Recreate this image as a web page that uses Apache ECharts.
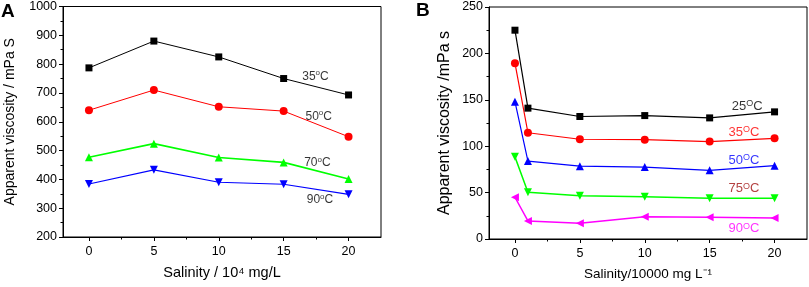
<!DOCTYPE html>
<html>
<head>
<meta charset="utf-8">
<script src="https://cdn.jsdelivr.net/npm/echarts@6/dist/echarts.min.js"></script>
<style>
html, body { margin: 0; padding: 0; background: #fff; }
#main { width: 809px; height: 287px; }
</style>
</head>
<body>
<div id="main"></div>
<script>
// panel A: salinity in 10^4 mg/L
var salinityA = [0, 5, 10, 15, 20];
var visc35A = [787, 880, 825, 750, 693];
var visc50A = [640, 710, 652, 637, 548];
var visc70A = [477, 524, 476, 459, 401];
var visc90A = [384, 433, 390, 383, 348];
var namesA = ['35', '50', '70', '90'];

// panel B: salinity in 10000 mg/L
var salinityB = [0, 1, 5, 10, 15, 20];
var visc25B = [225, 141, 132, 133, 130.5, 137];
var visc35B = [189.5, 114.5, 107.5, 107, 105, 108.5];
var visc50B = [148, 84, 78.5, 77.5, 74, 79];
var visc75B = [88.5, 50.5, 46.5, 45.5, 44, 44];
var visc90B = [45, 19.5, 17, 24, 23.5, 22.5];
var namesB = ['25', '35', '50', '75', '90'];

var majorX = [0, 5, 10, 15, 20];
var minorX = [2.5, 7.5, 12.5, 17.5];

var FONT = 'Liberation Sans, Arial, sans-serif';

function zip(xs, ys) {
  return xs.map(function (x, i) { return [x, ys[i]]; });
}

function lineSeries(idx, xs, ys, color, symbol, rot, size, width) {
  return {
    type: 'line',
    xAxisIndex: idx * 2,
    yAxisIndex: idx,
    data: zip(xs, ys),
    symbol: symbol,
    symbolRotate: rot,
    symbolSize: size,
    lineStyle: { color: color, width: width },
    itemStyle: { color: color },
    z: 3
  };
}

function tempLabel(idx, x, y, text, color, big) {
  var fs = big ? 13 : 12;
  return {
    type: 'scatter',
    xAxisIndex: idx * 2,
    yAxisIndex: idx,
    symbolSize: 0,
    silent: true,
    data: [[x, y]],
    label: {
      show: true,
      position: 'inside',
      formatter: '{n|' + text + '}{s|' + (big ? 'O' : 'o') + '}{n|C}',
      color: color,
      fontFamily: FONT,
      rich: {
        n: { fontSize: fs, color: color, fontFamily: FONT, lineHeight: 14 },
        s: { fontSize: big ? 9 : 8, color: color, fontFamily: FONT, lineHeight: big ? 8 : 9, verticalAlign: 'top' }
      }
    },
    z: 4
  };
}

function xAxes(grid, name, nameSize) {
  return [{
    type: 'value', gridIndex: grid, min: -2, max: 22.5,
    name: name, nameLocation: 'middle', nameGap: 28,
    nameTextStyle: { fontSize: nameSize, color: '#000', fontFamily: FONT },
    axisLine: { show: true, onZero: false, lineStyle: { color: '#000', width: 1 } },
    axisTick: { show: true, customValues: majorX, length: 4, lineStyle: { color: '#000' } },
    axisLabel: { customValues: majorX, fontSize: 12.5, color: '#000', fontFamily: FONT, margin: 8 },
    splitLine: { show: false }
  }, {
    type: 'value', gridIndex: grid, min: -2, max: 22.5, position: 'bottom',
    axisLine: { show: false, onZero: false },
    axisTick: { show: true, customValues: minorX, length: 2.5, lineStyle: { color: '#000' } },
    axisLabel: { show: false, customValues: minorX },
    splitLine: { show: false }
  }];
}

function yAxis(grid, min, max, step, name, gap, nameSize) {
  return {
    type: 'value', gridIndex: grid, min: min, max: max, interval: step,
    name: name, nameLocation: 'middle', nameGap: gap,
    nameTextStyle: { fontSize: nameSize, color: '#000', fontFamily: FONT },
    axisLine: { show: true, onZero: false, lineStyle: { color: '#000', width: 1 } },
    axisTick: { show: true, length: 4, lineStyle: { color: '#000' } },
    minorTick: { show: true, splitNumber: 2, length: 2.5, lineStyle: { color: '#000' } },
    axisLabel: { fontSize: 12.5, color: '#000', fontFamily: FONT, margin: 6, formatter: function (v) { return String(v); } },
    splitLine: { show: false }
  };
}

var chart = echarts.init(document.getElementById('main'));

var option = {
  backgroundColor: '#fff',
  animation: false,
  grid: [
    { left: 63, top: 6, width: 318, height: 231, show: true, borderColor: '#000', borderWidth: 1, backgroundColor: 'transparent' },
    { left: 489, top: 7, width: 318, height: 232, show: true, borderColor: '#000', borderWidth: 1, backgroundColor: 'transparent' }
  ],
  xAxis: xAxes(0, 'Salinity / 10\u2074 mg/L', 14.5).concat(xAxes(1, 'Salinity/10000 mg L\u207B\u00B9', 13.5)),
  yAxis: [
    yAxis(0, 200, 1000, 100, 'Apparent viscosity / mPa S', 46, 14),
    yAxis(1, 0, 250, 50, 'Apparent viscosity /mPa s', 36, 16)
  ],
  graphic: [
    { type: 'text', left: 1, top: 2, style: { text: 'A', font: 'bold 19px ' + FONT, fill: '#000' } },
    { type: 'text', left: 416, top: 1, style: { text: 'B', font: 'bold 19px ' + FONT, fill: '#000' } }
  ],
  series: [
    lineSeries(0, salinityA, visc35A, '#000000', 'rect', 0, 7, 1),
    lineSeries(0, salinityA, visc50A, '#ff0000', 'circle', 0, 8, 1),
    lineSeries(0, salinityA, visc70A, '#00ff00', 'triangle', 0, 8, 1.6),
    lineSeries(0, salinityA, visc90A, '#0000ff', 'triangle', 180, 8, 1.2),
    tempLabel(0, 17.45, 758, namesA[0], '#000', false),
    tempLabel(0, 17.7, 619, namesA[1], '#000', false),
    tempLabel(0, 17.6, 457, namesA[2], '#000', false),
    tempLabel(0, 17.8, 329, namesA[3], '#000', false),

    lineSeries(1, salinityB, visc25B, '#000000', 'rect', 0, 7, 1.2),
    lineSeries(1, salinityB, visc35B, '#ff0000', 'circle', 0, 8, 1.2),
    lineSeries(1, salinityB, visc50B, '#0000ff', 'triangle', 0, 8, 1.2),
    lineSeries(1, salinityB, visc75B, '#00ff00', 'triangle', 180, 8, 1.5),
    lineSeries(1, salinityB, visc90B, '#ff00ff', 'triangle', 90, 8, 1.5),
    tempLabel(1, 17.9, 143, namesB[0], '#000', true),
    tempLabel(1, 17.65, 115, namesB[1], '#ff0000', true),
    tempLabel(1, 17.65, 85, namesB[2], '#0000ff', true),
    tempLabel(1, 17.65, 54, namesB[3], '#a01010', true),
    tempLabel(1, 17.65, 11, namesB[4], '#ff00ff', true)
  ]
};

chart.setOption(option);
</script>
</body>
</html>
